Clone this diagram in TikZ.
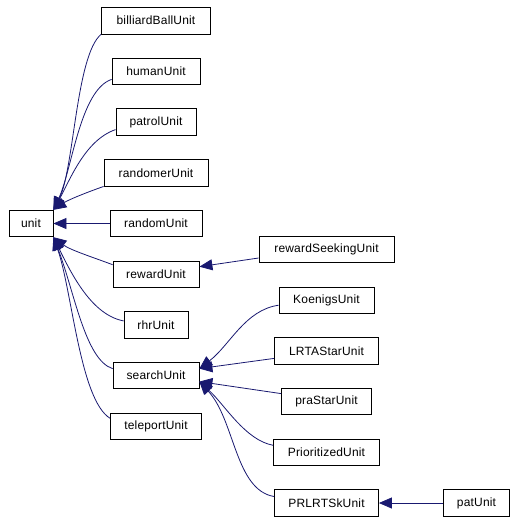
\documentclass[tikz,border=0pt]{standalone}
\usepackage{fontspec}
\setmainfont{Liberation Sans}[LetterSpace=1.5]
\usetikzlibrary{positioning, arrows.meta}
\definecolor{midblue}{RGB}{25,25,112}

\begin{document}
\begin{tikzpicture}[x=1pt, y=-1pt, >={Triangle[length=13pt,width=11pt]},
                line width=0.8pt, node distance=50.7pt,
                cls/.style={draw, rectangle, inner sep=0pt, minimum height=26.5pt,
                            font=\fontsize{12}{14}\selectfont},
                inh/.style={->, draw=midblue, fill=none},
                ctl/.style 2 args={to path={.. controls #1 and #2 .. (\tikztotarget)}}]
            
                \useasboundingbox (0,0) rectangle (516,523);

                \node[cls, minimum width=44pt] (unit) at (31,223.5) {unit};
                \node[cls, minimum width=92pt] (random) at (156,223.5) {randomUnit};
                \node[cls, minimum width=104pt] (randomer) [above of=random] {randomerUnit};
                \node[cls, minimum width=80pt] (patrol) [above of=randomer] {patrolUnit};
                \node[cls, minimum width=88pt] (human) [above of=patrol] {humanUnit};
                \node[cls, minimum width=109pt] (billiard) [above of=human] {billiardBallUnit};
                \node[cls, minimum width=86pt] (reward) [below of=random] {rewardUnit};
                \node[cls, minimum width=64pt] (rhr) [below of=reward] {rhrUnit};
                \node[cls, minimum width=86pt] (search) [below of=rhr] {searchUnit};
                \node[cls, minimum width=91pt] (teleport) [below of=search] {teleportUnit};

                \node[cls, minimum width=135pt] (rseek) at (326.5,249.5) {rewardSeekingUnit};
                \node[cls, minimum width=95pt] (koenigs) [below of=rseek] {KoenigsUnit};
                \node[cls, minimum width=104pt] (lrta) [below of=koenigs] {LRTAStarUnit};
                \node[cls, minimum width=90pt] (prastar) [below of=lrta] {praStarUnit};
                \node[cls, minimum width=106pt] (prior) [below of=prastar] {PrioritizedUnit};
                \node[cls, minimum width=104pt] (prlrtsk) [below of=prior] {PRLRTSkUnit};
                \node[cls, minimum width=66pt] (pat) [right of=prlrtsk, node distance=150pt] {patUnit};

                % children of unit
                \path[every edge/.style={draw, inh}]
                (billiard.south west) edge[ctl={(76,55)}{(74,170)}] (unit.north east)
                ([yshift=-8pt]human.west) edge[ctl={(80,90)}{(72,170)}] (unit.north east)
                ([yshift=-7.5pt]patrol.west) edge[ctl={(85,140)}{(70,180)}] (unit.north east)
                (randomer.south west) edge[ctl={(85,193)}{(68,200)}] (unit.north east)
                (random.west) edge (unit.east)
                ([yshift=9.5pt]reward.west) edge[ctl={(95,258)}{(70,250)}] (unit.south east)
                ([yshift=4pt]rhr.west) edge[ctl={(92,315)}{(72,275)}] (unit.south east)
                ([yshift=7pt]search.west) edge[ctl={(85,360)}{(74,290)}] (unit.south east)
                ([yshift=8pt]teleport.west) edge[ctl={(80,400)}{(72,290)}] (unit.south east);

                % children of searchUnit
                \path[every edge/.style={draw, inh}]
                ([yshift=-8.5pt]rseek.west) edge ([yshift=7.5pt]reward.east)
                ([yshift=-5pt]koenigs.west) edge[ctl={(245,310)}{(230,345)}] ([yshift=7pt]search.east)
                ([yshift=-7.5pt]lrta.west) edge ([yshift=7pt]search.east)
                ([yshift=8pt]prastar.west) edge ([yshift=-6pt]search.east)
                ([yshift=7pt]prior.west) edge[ctl={(245,440)}{(225,405)}] ([yshift=-6pt]search.east)
                ([yshift=6.5pt]prlrtsk.west) edge[ctl={(235,490)}{(235,420)}] ([yshift=-6pt]search.east)
                (pat.west) edge (prlrtsk.east);
            
            \end{tikzpicture}
\end{document}
